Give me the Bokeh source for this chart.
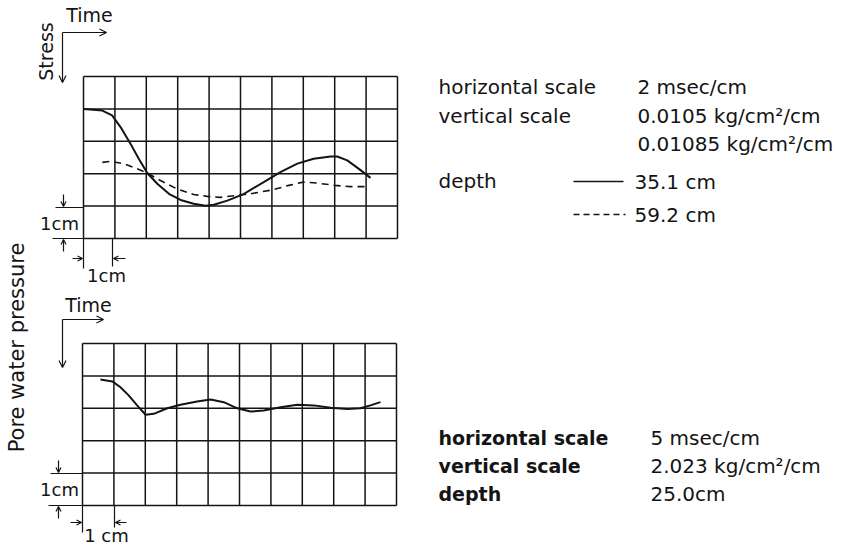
import math
from bokeh.plotting import figure
from bokeh.models import Range1d, Label, Arrow, OpenHead
from bokeh.embed import file_html
from bokeh.resources import INLINE

# ---------------- data (grid units = cm; x from grid left, y up from grid bottom) -------------
stress_351_x = [0.00, 0.60, 0.91, 1.18, 1.50, 1.76, 2.03, 2.35, 2.72, 3.09, 3.51, 3.89, 4.15,
                4.58, 5.00, 5.11, 5.74, 6.27, 6.81, 7.33, 7.87, 8.08, 8.40, 8.77, 9.14]
stress_351_y = [4.00, 3.95, 3.80, 3.44, 2.92, 2.46, 2.02, 1.69, 1.38, 1.19, 1.07, 1.01, 1.04,
                1.17, 1.33, 1.38, 1.74, 2.05, 2.31, 2.46, 2.53, 2.53, 2.41, 2.15, 1.87]

stress_592_x = [0.60, 0.86, 1.28, 1.71, 2.03, 2.45, 2.98, 3.51, 3.94, 4.36, 4.89, 5.32, 6.01,
                6.54, 7.00, 7.44, 8.00, 8.50, 8.98]
stress_592_y = [2.35, 2.38, 2.31, 2.15, 2.02, 1.79, 1.53, 1.36, 1.30, 1.27, 1.33, 1.38, 1.50,
                1.64, 1.74, 1.71, 1.64, 1.60, 1.60]

pwp_250_x = [0.57, 0.95, 1.21, 1.47, 1.74, 2.01, 2.27, 2.70, 3.12, 3.65, 4.08, 4.50, 4.93,
             5.35, 5.77, 6.31, 6.84, 7.37, 7.90, 8.43, 8.85, 9.17, 9.49]
pwp_250_y = [3.89, 3.83, 3.65, 3.40, 3.09, 2.80, 2.83, 3.00, 3.11, 3.21, 3.27, 3.19, 3.00,
             2.90, 2.93, 3.03, 3.11, 3.09, 3.02, 2.98, 3.00, 3.09, 3.19]

grid_cols = [0, 1, 2, 3, 4, 5, 6, 7, 8, 9, 10]
grid_rows = [0, 1, 2, 3, 4, 5]

top_labels = ["horizontal scale", "vertical scale", "depth"]
top_values = ["2 msec/cm", "0.0105 kg/cm\u00b2/cm", "0.01085 kg/cm\u00b2/cm"]
top_depths = ["35.1 cm", "59.2 cm"]
bot_labels = ["horizontal scale", "vertical scale", "depth"]
bot_values = ["5  msec/cm", "2.023 kg/cm\u00b2/cm", "25.0cm"]

# ---------------- layout (page pixels) ----------------
W, H = 856, 545
PX_CM_X, PX_CM_Y = 31.4, 32.4
TOP_X0, TOP_Y0 = 83, 238     # bottom-left corner of upper grid
BOT_X0, BOT_Y0 = 82, 505     # bottom-left corner of lower grid

FONT = "DejaVu Sans"
INK = "#141414"

p = figure(width=W, height=H, output_backend="svg", toolbar_location=None,
           x_range=Range1d(0, W), y_range=Range1d(H, 0),
           x_axis_location=None, y_axis_location=None, min_border=0,
           outline_line_color=None)
p.grid.visible = False
p.background_fill_color = "white"
p.border_fill_color = "white"

p.extra_x_ranges = {
    "topx": Range1d((0 - TOP_X0) / PX_CM_X, (W - TOP_X0) / PX_CM_X),
    "botx": Range1d((0 - BOT_X0) / PX_CM_X, (W - BOT_X0) / PX_CM_X),
}
p.extra_y_ranges = {
    "topy": Range1d((TOP_Y0 - H) / PX_CM_Y, TOP_Y0 / PX_CM_Y),
    "boty": Range1d((BOT_Y0 - H) / PX_CM_Y, BOT_Y0 / PX_CM_Y),
}

# ---------------- grids ----------------
for xr, yr in (("topx", "topy"), ("botx", "boty")):
    p.segment(x0=grid_cols, y0=[grid_rows[0]] * len(grid_cols),
              x1=grid_cols, y1=[grid_rows[-1]] * len(grid_cols),
              line_color=INK, line_width=1.5, x_range_name=xr, y_range_name=yr)
    p.segment(x0=[grid_cols[0]] * len(grid_rows), y0=grid_rows,
              x1=[grid_cols[-1]] * len(grid_rows), y1=grid_rows,
              line_color=INK, line_width=1.5, x_range_name=xr, y_range_name=yr)

# ---------------- curves ----------------
p.line(stress_351_x, stress_351_y, line_color=INK, line_width=2.0,
       x_range_name="topx", y_range_name="topy")
p.line(stress_592_x, stress_592_y, line_color=INK, line_width=1.6, line_dash="7 5",
       x_range_name="topx", y_range_name="topy")
p.line(pwp_250_x, pwp_250_y, line_color=INK, line_width=2.0,
       x_range_name="botx", y_range_name="boty")

# ---------------- helpers for annotations (page pixels) ----------------
def arrow(x0, y0, x1, y1, size=8, lw=1.2):
    p.add_layout(Arrow(x_start=x0, y_start=y0, x_end=x1, y_end=y1,
                       end=OpenHead(size=size, line_width=lw, line_color=INK),
                       line_color=INK, line_width=lw))

def label(x, y, text, size=18, angle=0.0, bold=False, align="left", baseline="middle"):
    p.add_layout(Label(x=x, y=y, text=text, angle=angle, text_font=FONT,
                       text_font_size=f"{size}px", text_color=INK,
                       text_font_style="bold" if bold else "normal",
                       text_align=align, text_baseline=baseline))

def seg(x0, y0, x1, y1, lw=1.2, dash="solid"):
    p.segment(x0=[x0], y0=[y0], x1=[x1], y1=[y1], line_color=INK, line_width=lw,
              line_dash=dash)

# ---- upper panel axis indicators ----
label(89, 14, "Time", size=19, align="center")
arrow(62, 32, 106, 32, size=7)
arrow(62, 32, 62, 82, size=7)
label(45, 51, "Stress", size=19, angle=math.pi / 2, align="center")

# vertical 1 cm marker
seg(55, 207, 83, 207)
seg(52, 238, 83, 238)
arrow(63, 194, 63, 206, size=5)
arrow(63, 251, 63, 239, size=5)
label(59, 223, "1cm", size=18, align="center")
# horizontal 1 cm marker
seg(83, 238, 83, 268)
seg(112, 238, 112, 266)
arrow(72, 258, 82, 258, size=5)
arrow(125, 258, 113, 258, size=5)
label(106, 275, "1cm", size=18, align="center")

# ---- lower panel axis indicators ----
label(88, 304, "Time", size=19, align="center")
arrow(62, 319, 103, 319, size=7)
arrow(62, 319, 62, 367, size=7)
label(16, 347, "Pore water pressure", size=21, angle=math.pi / 2, align="center")

seg(50, 473, 82, 473)
seg(48, 505, 82, 505)
arrow(58, 460, 58, 472, size=5)
arrow(58, 518, 58, 506, size=5)
label(59, 489, "1cm", size=18, align="center")
seg(82, 505, 82, 532)
seg(114, 505, 114, 527)
arrow(70, 522, 81, 522, size=5)
arrow(126, 522, 115, 522, size=5)
label(106, 535, "1 cm", size=18, align="center")

# ---- upper legend block ----
label(438, 86, top_labels[0], size=20)
label(438, 115, top_labels[1], size=20)
label(438, 180, top_labels[2], size=20)
label(637, 86, top_values[0], size=20)
label(637, 115, top_values[1], size=20)
label(637, 143, top_values[2], size=20)
seg(573, 181, 623, 181, lw=1.3)
label(634, 181, top_depths[0], size=20)
seg(573, 214, 625, 214, lw=1.3, dash="6 4")
label(634, 214, top_depths[1], size=20)

# ---- lower legend block ----
label(438, 437, bot_labels[0], size=19, bold=True)
label(438, 465, bot_labels[1], size=19, bold=True)
label(438, 493, bot_labels[2], size=19, bold=True)
label(650, 437, bot_values[0], size=20)
label(650, 465, bot_values[1], size=20)
label(650, 493, bot_values[2], size=20)

open("out.html", "w").write(file_html(p, INLINE))
